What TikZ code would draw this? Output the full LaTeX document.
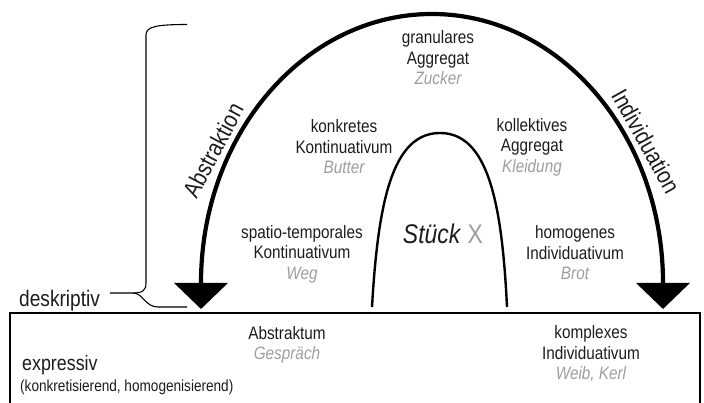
\documentclass[tikz,border=0pt]{standalone}
\usepackage{fontspec}
\setmainfont{Liberation Sans}[FakeStretch=0.85]
\usetikzlibrary{arrows.meta}
\definecolor{inkcol}{HTML}{1C1C1C}
\definecolor{bspcol}{HTML}{9E9E9E}
\newcommand{\bsp}[1]{{\color{bspcol}\itshape #1}}
\tikzset{
  lab/.style={align=center, inner sep=0pt, text=inkcol, font=\fontsize{18}{20.5}\selectfont},
  dirlab/.style={inner sep=0pt, text=inkcol, font=\fontsize{24}{28}\selectfont},
  side/.style={anchor=base west, inner sep=0pt, text=inkcol},
  bigarc/.style={line width=4.2pt},
  arch/.style={line width=2.4pt},
  brace/.style={line width=1.1pt},
}
\begin{document}
\begin{tikzpicture}[x=1pt, y=1pt, >={Triangle[length=26pt, width=53pt]}]
  \useasboundingbox (0,0) rectangle (704,403);
  % lower box
  \draw[line width=1.8pt] (10,-3) -- (10,90) -- (700,90) -- (700,-3);
  % big arc with both arrows
  \draw[bigarc, <->] (201,94) -- (201,120)
    arc[start angle=180, end angle=0, x radius=231, y radius=269] -- (663,94);
  % inner arch
  \draw[arch] (372,96) .. controls (378,200) and (392,270) .. (440,270)
    .. controls (488,270) and (502,200) .. (507,96);
  % labels on the arc
  \node[dirlab, rotate=62]  (abstr) at (213,253) {Abstraktion};
  \node[dirlab, rotate=-61] (indiv) at (646,262) {Individuation};
  % classes
  \node[lab] (gran)   at (438,345) {granulares\\Aggregat\\\bsp{Zucker}};
  \node[lab] (konk)   at (344,256) {konkretes\\Kontinuativum\\\bsp{Butter}};
  \node[lab] (koll)   at (532,256) {kollektives\\Aggregat\\\bsp{Kleidung}};
  \node[lab] (spatio) at (302,149) {spatio-temporales\\Kontinuativum\\\bsp{Weg}};
  \node[lab] (homog)  at (575,150) {homogenes\\Individuativum\\\bsp{Brot}};
  \node[lab, font=\fontsize{27}{30}\selectfont] (stueck) at (443,169) {\textit{Stück} {\color{bspcol}X}};
  \node[lab] (abstm)  at (287,58)  {Abstraktum\\\bsp{Gespräch}};
  \node[lab] (kompl)  at (591,49)  {komplexes\\Individuativum\\\bsp{Weib, Kerl}};
  % left side
  \node[side, font=\fontsize{22.5}{26}\selectfont] (desk) at (19,96) {deskriptiv};
  \node[side, font=\fontsize{21}{24}\selectfont]   (expr) at (22,32) {expressiv};
  \node[side, font=\fontsize{16}{19}\selectfont]   (konkr) at (20,11) {(konkretisierend, homogenisierend)};
  % brace
  \draw[brace] (110,110) -- (133,110) .. controls (143,110) and (146,113) .. (146,120)
    -- (146,368) .. controls (146,376) and (155,378.5) .. (187,378.5);
  \draw[brace] (133,110) .. controls (143,110) and (145,96) .. (158,96) -- (187,96);
\end{tikzpicture}
\end{document}
